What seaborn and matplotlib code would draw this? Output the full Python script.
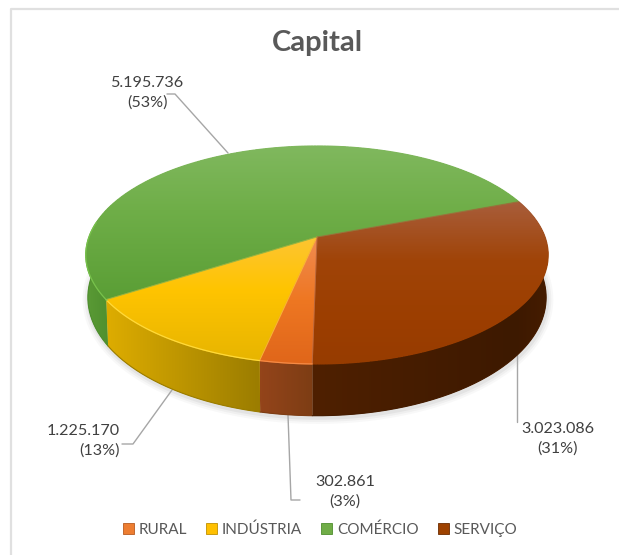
import numpy as np
import seaborn as sns
import matplotlib.pyplot as plt
from matplotlib.collections import LineCollection
from matplotlib.colors import LinearSegmentedColormap
from matplotlib.patches import Patch, Polygon

categories = ['RURAL', 'INDÚSTRIA', 'COMÉRCIO', 'SERVIÇO']
values = [302861, 1225170, 5195736, 3023086]
title = 'Capital'

sns.set_theme(style='white')
plt.rcParams['font.family'] = ['Lato', 'DejaVu Sans']

base = sns.color_palette(['#ED7D31', '#FFC000', '#70AD47', '#9E4200'])

# cores de cima (posicao y em pixel, cor)
top_stops = [
    [(146, '#F4A070'), (240, '#F08A50'), (300, '#EE7722'), (364, '#E0661A')],
    [(146, '#FDD060'), (240, '#FDC530'), (290, '#FFC400'), (364, '#E6B400')],
    [(146, '#80B85E'), (210, '#6FAE48'), (300, '#5A9E35'), (364, '#559A30')],
    [(146, '#B06A48'), (205, '#A85C38'), (260, '#A04408'), (320, '#9C3E00'), (364, '#973C00')],
]
# cores do lado (posicao x em pixel, cor)
side_stops = [
    [(262, '#93441A'), (313, '#7D3D14')],
    [(108, '#DDAC00'), (262, '#9A7C00')],
    [(87, '#5A9A35'), (112, '#4E8E2E')],
    [(313, '#4F2000'), (515, '#3D1900'), (548, '#451C00')],
]
# brilho na frente da tampa: cor e faixa de angulos
highlights = [('#F58A45', None), ('#FFD93A', None), ('#78C24C', (172, 213))]

fig = plt.figure(figsize=(6.19, 5.55), dpi=100)
ax = fig.add_axes([0, 0, 1, 1])

wedges, _ = ax.pie(values, startangle=269, counterclock=False)
angles = [(w.theta1, w.theta2) for w in wedges]
for w in wedges:
    w.remove()

ax.set_aspect('auto')
ax.axis('off')


def project(theta, x0, y0, a, b, k=0.165):
    # perspectiva do disco em pixels
    u = np.cos(np.radians(theta))
    v = np.sin(np.radians(theta))
    d = 1 + k * v
    return x0 + a * u / d, y0 - b * v / d


def top_disk(theta):
    return project(theta, 317, 237, 228, 106)


def bottom_disk(theta):
    return project(theta, 317, 278, 226, 115)


def gradient(stops, lo, hi):
    pos = [(p - lo) / (hi - lo) for p, _ in stops]
    pos[0] = 0
    pos[-1] = 1
    return LinearSegmentedColormap.from_list('g', list(zip(pos, [c for _, c in stops])))


# sombra
full = np.linspace(0, 360, 361)
sx, sy = bottom_disk(full)
for lw, al in [(9, 0.05), (6, 0.07), (3, 0.1)]:
    ax.plot(sx + 1, sy + 2, color='#808080', lw=lw, alpha=al, zorder=1, solid_capstyle='round')

# lados
ramp_h = np.linspace(0, 1, 256)[None, :]
ramp_v = np.linspace(0, 1, 256)[:, None]
for i in [2, 1, 0, 3]:
    t1, t2 = angles[i]
    t = np.linspace(t1, t2, 200)
    tx, ty = top_disk(t)
    bx, by = bottom_disk(t)
    pts = np.r_[np.c_[tx, ty], np.c_[bx, by][::-1]]
    lo, hi = side_stops[i][0][0], side_stops[i][-1][0]
    poly = Polygon(pts, closed=True, facecolor=side_stops[i][0][1], edgecolor='none', zorder=2)
    ax.add_patch(poly)
    im = ax.imshow(ramp_h, extent=(lo, hi, 430, 180), origin='upper', aspect='auto',
                   cmap=gradient(side_stops[i], lo, hi), zorder=3)
    im.set_clip_path(poly)
    ax.plot(bx, by, color=side_stops[i][-1][1], lw=0.8, zorder=4)

# tampa
for i, (t1, t2) in enumerate(angles):
    t = np.linspace(t1, t2, 200)
    tx, ty = top_disk(t)
    pts = np.r_[[[317, 237]], np.c_[tx, ty]]
    cmap = gradient(top_stops[i], 146, 364)
    poly = Polygon(pts, closed=True, facecolor=base[i], edgecolor='none', zorder=5)
    ax.add_patch(poly)
    im = ax.imshow(ramp_v, extent=(60, 570, 364, 146), origin='upper', aspect='auto',
                   cmap=cmap, zorder=6)
    im.set_clip_path(poly)
    # contorno na cor do proprio gradiente, so para suavizar
    xy = np.c_[tx, ty]
    segs = np.stack([xy[:-1], xy[1:]], axis=1)
    ax.add_collection(LineCollection(segs, colors=cmap((ty[:-1] - 146) / 218), lw=0.9, zorder=7),
                      autolim=False)

for i, (col, rng) in enumerate(highlights):
    t1, t2 = rng if rng else angles[i]
    t = np.linspace(t1, t2, 100)
    ax.plot(*top_disk(t), color=col, lw=0.9, zorder=8)

# separadores
for i, (t1, t2) in enumerate(angles):
    for t in (t1, t2):
        ex, ey = top_disk(t)
        ax.plot([317, ex], [237, ey], color=top_stops[i][1][1], lw=0.7, alpha=0.6, zorder=7)

ax.set_xlim(0, 619)
ax.set_ylim(555, 0)

# moldura: so em cima e a esquerda
ax.plot([619, 11, 11], [9, 9, 555], color='#E0E0E0', lw=1.6, zorder=0)

ax.text(317, 43, title, ha='center', va='center', fontsize=21, fontweight='bold', color='#595959')

# rotulos
total = sum(values)
labels = [f"{v:,}".replace(',', '.') + f"\n({round(v / total * 100)}%)" for v in values]
label_pos = [(345, 492, 'center'), (120, 441, 'right'), (147, 93, 'center'), (558, 439, 'center')]
for lab, (x, y, ha) in zip(labels, label_pos):
    ax.text(x, y, lab, ha=ha, va='center', ma=ha, fontsize=11.6, color='#404040', linespacing=1.5, zorder=9)

leaders = [
    ([288, 291, 300], [415, 500, 500]),
    ([122, 133, 172], [444, 444, 390]),
    ([167, 175, 228], [94, 94, 153]),
    ([517, 517], [355, 422]),
]
for lx, ly in leaders:
    ax.plot(lx, ly, color='#A6A6A6', lw=1, zorder=1)

handles = [Patch(facecolor=c, edgecolor=e, lw=0.6) for c, e in
           zip(base, ['#B85A20', '#BF9000', '#4E8E2E', '#6B2C00'])]
ax.legend(handles, categories, loc='center', bbox_to_anchor=(320 / 619, 1 - 530 / 555), ncol=4,
          frameon=False, fontsize=11, labelcolor='#595959', handlelength=0.72, handleheight=0.72,
          handletextpad=0.3, columnspacing=1.25, borderpad=0)

fig.savefig('out.png', dpi=100)
